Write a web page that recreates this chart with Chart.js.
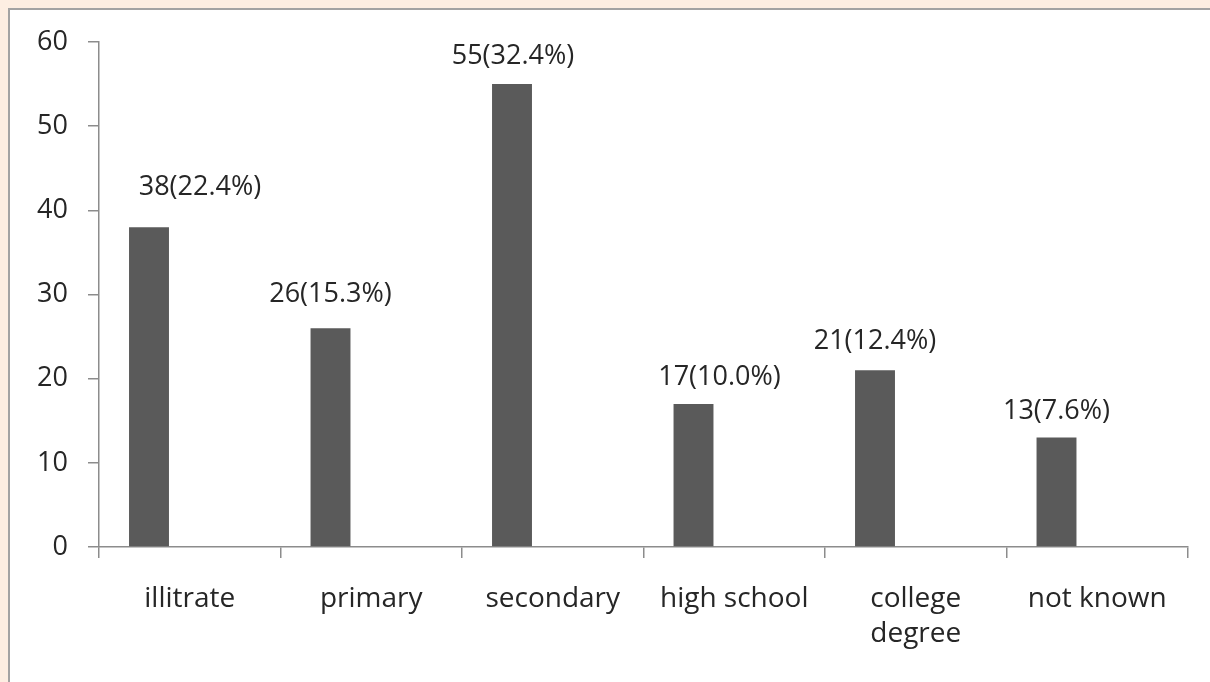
<!DOCTYPE html>
<html>
<head>
<meta charset="utf-8">
<script src="https://cdn.jsdelivr.net/npm/chart.js@4/dist/chart.umd.min.js"></script>
<style>
  html, body { margin: 0; padding: 0; }
  body { width: 1210px; height: 682px; background: #fdeee2; position: relative; overflow: hidden; }
  #box { position: absolute; left: 8px; top: 8px; width: 1240px; height: 700px; background: #ffffff;
         border-left: 2px solid #a3a3a3; border-top: 2px solid #a3a3a3; }
  #c { position: absolute; left: 0; top: 0; }
</style>
</head>
<body>
<div id="box"></div>
<canvas id="c" width="1210" height="682"></canvas>
<script>
// ---- data ----
const categories = ['illitrate', 'primary', 'secondary', 'high school', ['college', 'degree'], 'not known'];
const counts = [38, 26, 55, 17, 21, 13];
const percents = ['22.4', '15.3', '32.4', '10.0', '12.4', '7.6'];
const yTicks = [0, 10, 20, 30, 40, 50, 60];

// ---- label placement style (pixel nudges, as the labels were moved in the original) ----
const labelShiftX = [51, 0, 1, 26, 0, 0];
const labelRaise = [40, 34, 28, 27, 29, 26];

const FONT = "'Open Sans', 'DejaVu Sans', sans-serif";
const TEXT = '#262626';
const AXIS = '#8c8c8c';

const labelPlugin = {
  id: 'barLabels',
  afterDatasetsDraw(chart) {
    const ctx = chart.ctx;
    const meta = chart.getDatasetMeta(0);
    ctx.save();
    ctx.font = '27px ' + FONT;
    ctx.fillStyle = TEXT;
    ctx.textAlign = 'center';
    ctx.textBaseline = 'middle';
    meta.data.forEach((bar, i) => {
      const txt = counts[i] + '(' + percents[i] + '%)';
      ctx.fillText(txt, bar.x + labelShiftX[i], bar.y - labelRaise[i]);
    });
    ctx.restore();
  }
};

new Chart(document.getElementById('c'), {
  type: 'bar',
  data: {
    labels: categories,
    datasets: [
      { data: counts, backgroundColor: '#5a5a5a', borderWidth: 0,
        categoryPercentage: 0.898, barPercentage: 0.49 },
      { data: counts.map(() => null), backgroundColor: '#5a5a5a', borderWidth: 0,
        categoryPercentage: 0.898, barPercentage: 0.49 }
    ]
  },
  options: {
    responsive: false,
    animation: false,
    layout: { padding: { left: 0, right: 22, top: 42, bottom: 0 } },
    plugins: { legend: { display: false }, tooltip: { enabled: false } },
    scales: {
      x: {
        grid: { display: true, drawOnChartArea: false, drawTicks: true, tickLength: 11,
                color: AXIS, lineWidth: 1.5, offset: true },
        border: { display: true, color: AXIS, width: 1.5 },
        ticks: { color: TEXT, font: { family: FONT, size: 28, lineHeight: 1.25 },
                 padding: 24, maxRotation: 0, autoSkip: false },
        afterFit(scale) { scale.height = 135; }
      },
      y: {
        min: 0, max: 60,
        afterBuildTicks(scale) { scale.ticks = yTicks.map(v => ({ value: v })); },
        grid: { display: true, drawOnChartArea: false, drawTicks: true, tickLength: 11,
                color: AXIS, lineWidth: 1.5 },
        border: { display: true, color: AXIS, width: 1.5 },
        ticks: { color: TEXT, font: { family: FONT, size: 27 }, padding: 20 },
        afterFit(scale) { scale.width = 99; }
      }
    }
  },
  plugins: [labelPlugin]
});
</script>
</body>
</html>
